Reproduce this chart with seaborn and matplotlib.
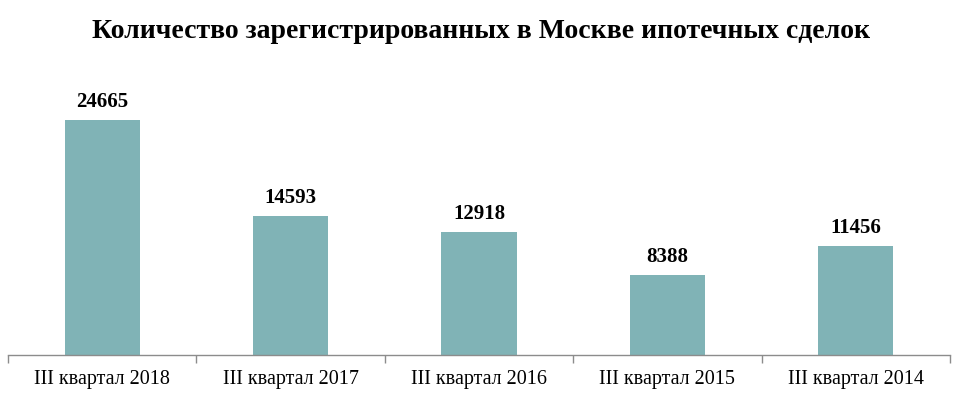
import matplotlib
matplotlib.use("Agg")
import matplotlib.pyplot as plt
import seaborn as sns
import pandas as pd
import numpy as np

categories = ["III квартал 2018", "III квартал 2017", "III квартал 2016", "III квартал 2015", "III квартал 2014"]
values = [24665, 14593, 12918, 8388, 11456]
title = "Количество зарегистрированных в Москве ипотечных сделок"

sns.set_theme(style="white")
plt.rcParams['font.family'] = ['Liberation Serif', 'DejaVu Serif']

df = pd.DataFrame({"cat": categories, "val": values})

fig = plt.figure(figsize=(9.62, 3.93), dpi=100)
ax = fig.add_axes([8/962, 38/393, 942/962, 275/393])
sns.barplot(data=df, x="cat", y="val", color="#80B3B6", saturation=1, width=0.4,
            linewidth=0, ax=ax)

ax.set_ylim(0, 24665 * 275 / 235)
ax.set_xlim(-0.5, len(categories) - 0.5)
for s in ["top", "right", "left"]:
    ax.spines[s].set_visible(False)
ax.spines["bottom"].set_color("#8c8c8c")
ax.spines["bottom"].set_linewidth(1)
ax.set_yticks([])
ax.set_xlabel("")
ax.set_ylabel("")
ax.tick_params(axis="x", which="major", length=0, labelsize=14.5, pad=11, labelcolor="black")
ax.set_xticks(np.arange(-0.5, len(categories)), minor=True)
ax.tick_params(axis="x", which="minor", bottom=True, length=6, color="#8c8c8c", width=1, direction="out")

for i, v in enumerate(values):
    ax.annotate(str(v), (i, v), xytext=(0, 6), textcoords="offset points",
                ha="center", va="bottom", fontsize=15, fontweight="bold", color="black")

fig.text(0.5, 1 - 32/393, title, ha="center", va="center", fontsize=20, fontweight="bold", color="black")

fig.savefig("out.png", dpi=100)
